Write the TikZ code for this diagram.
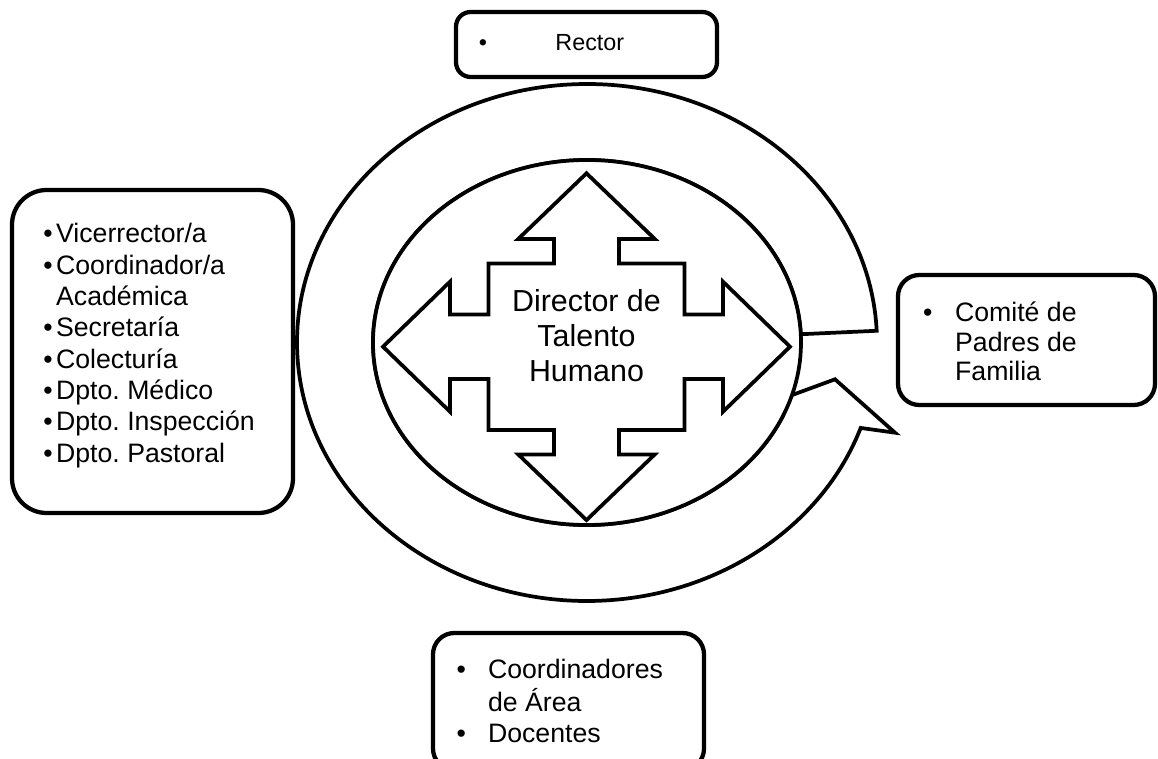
\documentclass[tikz,border=0pt]{standalone}
\usepackage{fontspec}
\setmainfont{Liberation Sans}
\usepackage{tikz}
\usetikzlibrary{calc}
\frenchspacing
\definecolor{linea}{HTML}{000000}
\definecolor{fondo}{HTML}{FFFFFF}
\tikzset{
  forma/.style={draw=linea, fill=fondo, line width=2.8pt, line join=miter},
  caja/.style={draw=linea, fill=fondo, line width=3.2pt, rounded corners=16pt},
  lista/.style={inner sep=0pt, anchor=west, text=linea, font=\fontsize{20}{23.5}\selectfont},
  titulo/.style={inner sep=0pt, align=center, text=linea, font=\fontsize{22.8}{26.2}\selectfont},
}

\begin{document}
\begin{tikzpicture}[x=0.75pt, y=0.75pt]
\clip (0,0) rectangle (1158,758);
\fill[fondo] (0,0) rectangle (1158,758);
\coordinate (C) at (587,415.5);
\coordinate (K) at (586.5,411.3);
% flecha circular
\coordinate (punta) at (835,378.7);
\coordinate (barba-ext) at (895,325.3);
\coordinate (barba-int) at (746.7,346.3);
\draw[forma] ($(C)+(2.6:290 and 258.5)$)
  arc[start angle=2.6, end angle=340.7, x radius=290, y radius=258.5]
  -- (barba-ext) -- (punta) -- (barba-int)
  -- ($(C)+(335.9:214 and 182.5)$)
  arc[start angle=335.9, end angle=2.6, x radius=214, y radius=182.5]
  -- cycle;
\draw[forma] (C) ellipse[x radius=214, y radius=182.5];
% flecha de cuatro puntas
\draw[forma, shift={(K)}] (0,173.4) -- (68.3,107.7) -- (32.5,107.7) -- (32.5,83.3)
  -- (98,83.3) -- (98,32.2) -- (136.5,32.2) -- (136.5,65) -- (203.5,0)
  -- (136.5,-65) -- (136.5,-32.2) -- (98,-32.2) -- (98,-83.3) -- (32.5,-83.3)
  -- (32.5,-107.7) -- (68.3,-107.7) -- (0,-173.4) -- (-68.3,-107.7) -- (-32.5,-107.7)
  -- (-32.5,-83.3) -- (-98,-83.3) -- (-98,-32.2) -- (-136.5,-32.2) -- (-136.5,-65)
  -- (-203.5,0) -- (-136.5,65) -- (-136.5,32.2) -- (-98,32.2) -- (-98,83.3)
  -- (-32.5,83.3) -- (-32.5,107.7) -- (-68.3,107.7) -- cycle;
\node[titulo] (director) at (586.5,422) {Director de\\Talento\\Humano};
% cajas
\node[caja, rounded corners=11pt, minimum width=195.75pt, minimum height=48.75pt] (rector) at (586.5,713.5) {};
\node[lista, font=\fontsize{17.5}{21}\selectfont] (rector-txt) at ([xshift=18.5pt]rector.west)
  {\begin{tabular}{@{}p{57.5pt}@{}l@{}}\textbullet & Rector\end{tabular}};

\node[caja, rounded corners=26pt, minimum width=210.75pt, minimum height=242.25pt] (apoyo) at (152.5,406.5) {};
\node[lista] (apoyo-txt) at ([xshift=25pt, yshift=4pt]apoyo.west)
  {\begin{tabular}{@{}p{9.5pt}@{}l@{}}
  \textbullet & Vicerrector/a\\
  \textbullet & Coordinador/a\\
   & Académica\\
  \textbullet & Secretaría\\
  \textbullet & Colecturía\\
  \textbullet & Dpto. Médico\\
  \textbullet & Dpto. Inspección\\
  \textbullet & Dpto. Pastoral
  \end{tabular}};

\node[caja, minimum width=192.75pt, minimum height=97.5pt] (padres) at (1026.5,418) {};
\node[lista, font=\fontsize{20}{22}\selectfont] (padres-txt) at ([xshift=20.25pt, yshift=-4pt]padres.west)
  {\begin{tabular}{@{}p{24pt}@{}l@{}}
  \textbullet & Comité de\\
   & Padres de\\
   & Familia
  \end{tabular}};

\node[caja, minimum width=203.25pt, minimum height=102.75pt] (docentes) at (568.5,56.5) {};
\node[lista] (docentes-txt) at ([xshift=19.2pt, yshift=-2pt]docentes.west)
  {\begin{tabular}{@{}p{23.5pt}@{}l@{}}
  \textbullet & Coordinadores\\
   & de Área\\
  \textbullet & Docentes
  \end{tabular}};
\end{tikzpicture}
\end{document}
